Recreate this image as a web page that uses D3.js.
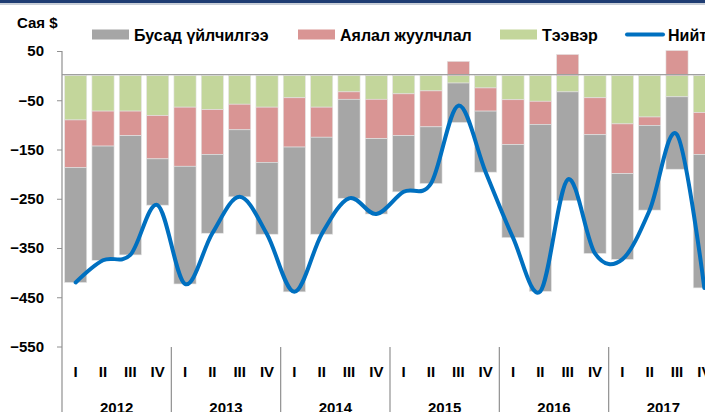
<!DOCTYPE html>
<html><head><meta charset="utf-8">
<script src="https://cdn.jsdelivr.net/npm/d3@7"></script>
<style>
html,body{margin:0;padding:0;background:#fff;overflow:hidden;}
svg{display:block;font-family:Arial,"Liberation Sans",sans-serif;}
</style></head>
<body>
<svg id="c" width="705" height="412"></svg>
<script>
const years = ["2012","2013","2014","2015","2016","2017"];
const quarters = ["I","II","III","IV"];
const categories = years.flatMap(y => quarters.map(q => y + "-" + q));
// Сая $ — quarterly values
const transport = [-90,-72,-72,-81, -64,-69,-58,-64, -45,-64,-33,-48, -37,-31,-15,-25, -49,-52,-33,-45, -98,-84,-43,-75];
const tourism   = [-97,-71,-50,-88, -120,-91,-52,-112, -100,-61,-15,-80, -85,-73,29,-47, -91,-47,43,-75, -101,-17,51,-85];
const other     = [-233,-232,-242,-94, -239,-160,-136,-146, -294,-197,-201,-153, -114,-115,-80,-124, -189,-339,-221,-241, -174,-172,-147,-271];
const total     = [-420,-375,-364,-263, -423,-320,-246,-322, -439,-322,-249,-281, -236,-219,-61,-196, -329,-438,-211,-361, -373,-273,-120,-431];
const seriesNames = ["Бусад үйлчилгээ","Аялал жуулчлал","Тээвэр","Нийт"];
const yTicks = [50,-50,-150,-250,-350,-450,-550];

const colors = {other:"#A6A6A6", tourism:"#D99594", transport:"#C3D69B", total:"#0070C0"};

const svg = d3.select("#c");
const x = d3.scaleBand().domain(categories).range([62, 718]).paddingInner(0.19).paddingOuter(0.095);
const y = d3.scaleLinear().domain([-550, 50]).range([346.5, 51]);

// top border
svg.append("rect").attr("x",0).attr("y",0).attr("width",705).attr("height",3).attr("fill","#1F3D73");
svg.append("rect").attr("x",0).attr("y",3).attr("width",705).attr("height",2).attr("fill","#C9CFD8");

// stacked bars (positives up from 0, negatives down from 0), order: transport, tourism, other
const stackOrder = [
  {key:"transport", vals:transport},
  {key:"tourism", vals:tourism},
  {key:"other", vals:other}
];
const segs = [];
categories.forEach((c,i) => {
  let pos = 0, neg = 0;
  stackOrder.forEach(s => {
    const v = s.vals[i];
    let y0, y1;
    if (v >= 0) { y0 = pos; y1 = pos + v; pos = y1; }
    else { y0 = neg; y1 = neg + v; neg = y1; }
    segs.push({c, key:s.key, y0, y1});
  });
});
svg.append("g").selectAll("rect").data(segs).join("rect")
  .attr("x", d => x(d.c))
  .attr("width", x.bandwidth())
  .attr("y", d => y(Math.max(d.y0,d.y1)))
  .attr("height", d => Math.abs(y(d.y0) - y(d.y1)))
  .attr("fill", d => colors[d.key])
  .attr("stroke", "#E4E4E4").attr("stroke-width", 0.6);

// zero line
svg.append("line").attr("x1",62).attr("x2",720).attr("y1",y(0)-1).attr("y2",y(0)-1)
  .attr("stroke","#A0A0A0").attr("stroke-width",1.2);

// y axis
const yAxis = d3.axisLeft(y).tickValues(yTicks).tickSize(5).tickPadding(13).tickFormat(d3.format("d"));
const gy = svg.append("g").attr("transform","translate(62,0)").call(yAxis);
gy.select(".domain").remove();
gy.selectAll(".tick line").attr("stroke","#909090");
gy.selectAll(".tick text").attr("font-size",15).attr("font-weight","bold").attr("fill","#000")
  .attr("font-family","Arial, 'Liberation Sans', sans-serif");
svg.append("line").attr("x1",62).attr("x2",62).attr("y1",y(50)).attr("y2",412).attr("stroke","#909090").attr("stroke-width",1.2);

// category axis: quarters and years
const xAxis = d3.axisBottom(x).tickSize(0).tickPadding(0).tickFormat(d => d.split("-")[1]);
const gx = svg.append("g").attr("transform","translate(0,366)").call(xAxis);
gx.select(".domain").remove();
gx.selectAll(".tick text").attr("font-size",15).attr("font-weight","bold").attr("fill","#000")
  .attr("dy","0.72em").attr("font-family","Arial, 'Liberation Sans', sans-serif");
const yearStep = x.step()*4;
years.forEach((yr,k) => {
  const x0 = x(yr+"-I") - x.step()*x.paddingInner()/2;
  if (k>0) svg.append("line").attr("x1",x0).attr("x2",x0).attr("y1",347).attr("y2",412)
    .attr("stroke","#909090").attr("stroke-width",1.2);
  svg.append("text").attr("x", x0 + yearStep/2).attr("y", 413).attr("text-anchor","middle")
    .attr("font-size",15).attr("font-weight","bold").text(yr);
});

// total line
const line = d3.line().x((d,i) => x(categories[i]) + x.bandwidth()/2).y(d => y(d)).curve(d3.curveCardinal.tension(0));
svg.append("path").datum(total).attr("d", line).attr("fill","none").attr("stroke",colors.total)
  .attr("stroke-width",4).attr("stroke-linecap","round");

// unit label
svg.append("text").attr("x",17).attr("y",28).attr("font-size",15).attr("font-weight","bold").text("Сая $");

// legend
const legend = [
  {name:seriesNames[0], color:colors.other, x:92, type:"rect"},
  {name:seriesNames[1], color:colors.tourism, x:298, type:"rect"},
  {name:seriesNames[2], color:colors.transport, x:500, type:"rect"},
  {name:seriesNames[3], color:colors.total, x:626, type:"line"}
];
const lg = svg.append("g");
legend.forEach(l => {
  if (l.type==="rect") lg.append("rect").attr("x",l.x).attr("y",29.5).attr("width",37).attr("height",10).attr("fill",l.color);
  else lg.append("line").attr("x1",l.x+1).attr("x2",l.x+37).attr("y1",34.5).attr("y2",34.5).attr("stroke",l.color).attr("stroke-width",4).attr("stroke-linecap","round");
  lg.append("text").attr("x",l.x+42).attr("y",41).attr("font-size",16).attr("font-weight","bold").text(l.name);
});
</script>
</body></html>
